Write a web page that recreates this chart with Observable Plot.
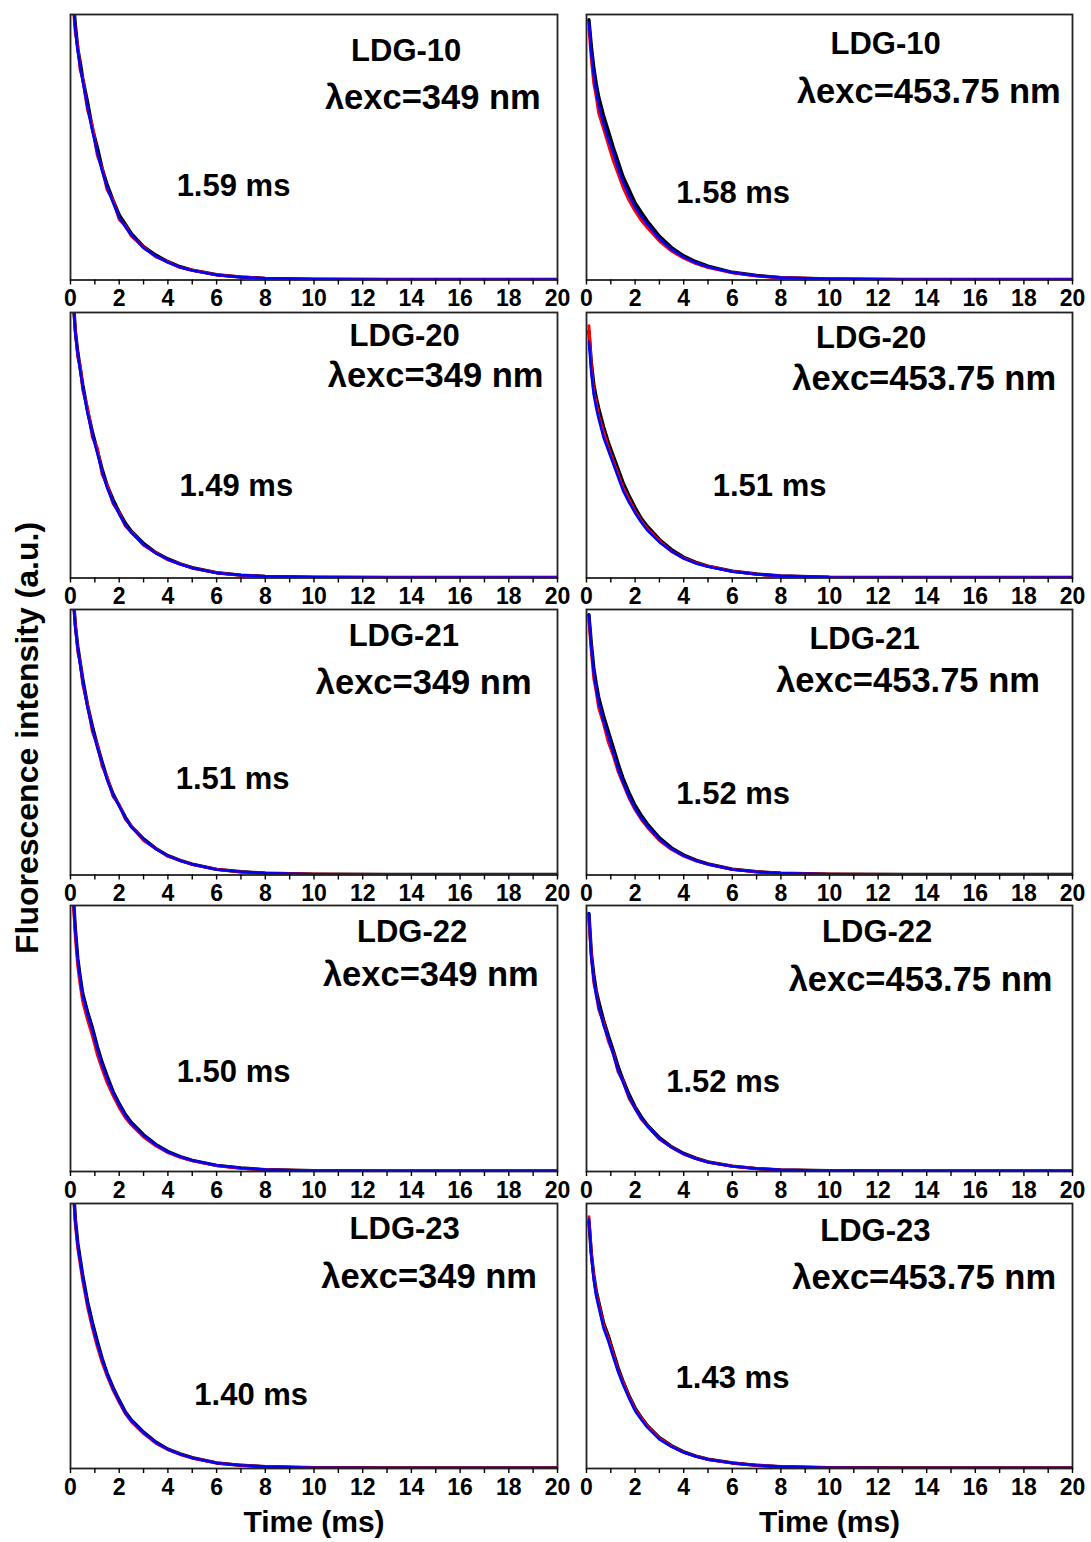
<!DOCTYPE html>
<html>
<head>
<meta charset="utf-8">
<script src="https://cdn.jsdelivr.net/npm/d3@7"></script>
<script src="https://cdn.jsdelivr.net/npm/@observablehq/plot@0.6"></script>
<style>
  html, body { margin: 0; padding: 0; background: #fff; }
  #chart { position: relative; width: 1091px; height: 1542px; background: #fff; overflow: hidden; }
  #chart svg { position: absolute; }
</style>
</head>
<body>
<div id="chart"></div>
<script>
// ---- data ----
const time = [0.1,0.2,0.3,0.4,0.5,0.7,0.9,1.1,1.3,1.5,1.75,2,2.25,2.5,3,3.5,4,4.5,5,6,7,8,10,13,16,20];
const samples = ["LDG-10","LDG-20","LDG-21","LDG-22","LDG-23"];
const excitations = ["λexc=349 nm","λexc=453.75 nm"];
const lifetimes349 = ["1.59 ms","1.49 ms","1.51 ms","1.50 ms","1.40 ms"];
const lifetimes453 = ["1.58 ms","1.51 ms","1.52 ms","1.52 ms","1.43 ms"];
const xTicks = [0,1,2,3,4,5,6,7,8,9,10,11,12,13,14,15,16,17,18,19,20];

// LDG-10, 349 nm
const ldg10_349_black = [1.07,0.96,0.87,0.82,0.76,0.67,0.57,0.50,0.42,0.36,0.30,0.245,0.21,0.175,0.126,0.094,0.069,0.05,0.037,0.02,0.011,0.006,0.003,0.002,0.002,0.002];
const ldg10_349_red   = [1.05,0.93,0.88,0.79,0.76,0.64,0.58,0.47,0.42,0.34,0.30,0.228,0.205,0.165,0.124,0.087,0.068,0.047,0.037,0.019,0.012,0.006,0.003,0.002,0.002,0.002];
const ldg10_349_blue  = [1.06,0.94,0.86,0.80,0.75,0.65,0.56,0.48,0.41,0.35,0.29,0.235,0.20,0.17,0.12,0.09,0.066,0.048,0.036,0.019,0.011,0.006,0.003,0.002,0.002,0.002];
// LDG-20, 349 nm
const ldg20_349_black = [1.07,0.93,0.85,0.79,0.73,0.63,0.55,0.48,0.41,0.35,0.295,0.248,0.207,0.176,0.13,0.096,0.072,0.053,0.039,0.02,0.011,0.006,0.003,0.002,0.002,0.002];
const ldg20_349_red   = [1.05,0.93,0.83,0.80,0.71,0.64,0.53,0.49,0.39,0.35,0.28,0.245,0.196,0.174,0.123,0.095,0.068,0.053,0.037,0.02,0.01,0.006,0.003,0.002,0.002,0.002];
const ldg20_349_blue  = [1.06,0.92,0.84,0.78,0.72,0.62,0.54,0.47,0.40,0.34,0.285,0.24,0.20,0.17,0.126,0.093,0.07,0.052,0.038,0.019,0.011,0.006,0.003,0.002,0.002,0.002];
// LDG-21, 349 nm
const ldg21_349_black = [1.07,0.94,0.86,0.80,0.74,0.64,0.56,0.49,0.425,0.365,0.305,0.262,0.218,0.183,0.136,0.10,0.073,0.055,0.041,0.021,0.012,0.007,0.003,0.002,0.002,0.002];
const ldg21_349_red   = [1.05,0.94,0.84,0.80,0.72,0.64,0.54,0.49,0.41,0.37,0.295,0.265,0.21,0.185,0.13,0.10,0.07,0.055,0.039,0.022,0.011,0.007,0.003,0.002,0.002,0.002];
const ldg21_349_blue  = [1.06,0.93,0.85,0.79,0.73,0.63,0.55,0.48,0.42,0.36,0.30,0.26,0.215,0.18,0.134,0.098,0.072,0.054,0.04,0.021,0.012,0.007,0.003,0.002,0.002,0.002];
// LDG-22, 349 nm
const ldg22_349_black = [1.06,0.91,0.80,0.73,0.67,0.60,0.54,0.47,0.41,0.36,0.30,0.255,0.215,0.184,0.138,0.102,0.075,0.056,0.042,0.023,0.013,0.007,0.003,0.002,0.002,0.002];
const ldg22_349_red   = [1.04,0.88,0.77,0.70,0.64,0.57,0.51,0.44,0.385,0.335,0.285,0.24,0.203,0.175,0.13,0.097,0.071,0.053,0.04,0.022,0.012,0.007,0.003,0.002,0.002,0.002];
const ldg22_349_blue  = [1.05,0.90,0.79,0.72,0.66,0.59,0.53,0.46,0.40,0.35,0.295,0.25,0.21,0.18,0.135,0.10,0.073,0.055,0.041,0.023,0.013,0.007,0.003,0.002,0.002,0.002];
// LDG-23, 349 nm
const ldg23_349_black = [1.09,0.94,0.85,0.79,0.73,0.63,0.55,0.48,0.415,0.36,0.305,0.258,0.214,0.183,0.137,0.10,0.073,0.055,0.041,0.021,0.012,0.007,0.003,0.002,0.002,0.002];
const ldg23_349_red   = [1.07,0.92,0.83,0.77,0.71,0.61,0.53,0.46,0.40,0.35,0.295,0.25,0.207,0.177,0.132,0.096,0.071,0.053,0.039,0.021,0.012,0.007,0.003,0.002,0.002,0.002];
const ldg23_349_blue  = [1.08,0.93,0.84,0.78,0.72,0.62,0.54,0.47,0.41,0.355,0.30,0.254,0.21,0.18,0.135,0.098,0.072,0.054,0.04,0.021,0.012,0.007,0.003,0.002,0.002,0.002];
// LDG-10, 453.75 nm
const ldg10_453_black = [0.98,0.88,0.80,0.74,0.69,0.62,0.56,0.50,0.445,0.39,0.34,0.29,0.255,0.222,0.165,0.122,0.091,0.069,0.052,0.029,0.017,0.009,0.004,0.002,0.002,0.002];
const ldg10_453_red   = [0.95,0.83,0.74,0.69,0.63,0.57,0.51,0.45,0.40,0.35,0.30,0.26,0.225,0.198,0.147,0.109,0.082,0.062,0.047,0.027,0.015,0.009,0.004,0.002,0.002,0.002];
const ldg10_453_blue  = [0.97,0.85,0.77,0.71,0.66,0.59,0.53,0.48,0.42,0.37,0.32,0.275,0.24,0.21,0.155,0.115,0.086,0.065,0.049,0.028,0.016,0.009,0.004,0.002,0.002,0.002];
// LDG-20, 453.75 nm
const ldg20_453_black = [0.93,0.81,0.73,0.68,0.64,0.57,0.51,0.46,0.41,0.36,0.31,0.265,0.225,0.195,0.145,0.107,0.078,0.059,0.045,0.026,0.015,0.008,0.003,0.002,0.002,0.002];
const ldg20_453_red   = [0.95,0.79,0.70,0.66,0.61,0.55,0.49,0.44,0.39,0.34,0.295,0.25,0.215,0.185,0.14,0.10,0.075,0.056,0.044,0.025,0.014,0.008,0.003,0.002,0.002,0.002];
const ldg20_453_blue  = [0.89,0.77,0.69,0.64,0.60,0.53,0.48,0.43,0.38,0.33,0.285,0.245,0.21,0.18,0.135,0.10,0.073,0.055,0.042,0.024,0.014,0.008,0.003,0.002,0.002,0.002];
// LDG-21, 453.75 nm
const ldg21_453_black = [0.98,0.87,0.78,0.72,0.67,0.60,0.54,0.48,0.42,0.365,0.31,0.262,0.225,0.193,0.14,0.102,0.075,0.056,0.042,0.022,0.012,0.007,0.003,0.002,0.002,0.002];
const ldg21_453_red   = [0.96,0.84,0.74,0.69,0.63,0.57,0.50,0.45,0.39,0.345,0.29,0.246,0.21,0.18,0.13,0.096,0.071,0.053,0.04,0.021,0.012,0.007,0.003,0.002,0.002,0.002];
const ldg21_453_blue  = [0.98,0.85,0.76,0.70,0.65,0.58,0.52,0.46,0.40,0.35,0.295,0.25,0.215,0.185,0.134,0.098,0.072,0.054,0.04,0.021,0.012,0.007,0.003,0.002,0.002,0.002];
// LDG-22, 453.75 nm
const ldg22_453_black = [0.97,0.82,0.74,0.68,0.64,0.57,0.51,0.455,0.395,0.345,0.29,0.243,0.206,0.175,0.127,0.093,0.068,0.05,0.036,0.02,0.011,0.006,0.003,0.002,0.002,0.002];
const ldg22_453_red   = [0.95,0.81,0.71,0.67,0.61,0.56,0.49,0.445,0.375,0.34,0.275,0.238,0.197,0.172,0.121,0.091,0.065,0.049,0.035,0.02,0.011,0.006,0.003,0.002,0.002,0.002];
const ldg22_453_blue  = [0.97,0.80,0.72,0.66,0.62,0.55,0.50,0.44,0.38,0.336,0.28,0.236,0.20,0.17,0.123,0.09,0.066,0.048,0.035,0.02,0.011,0.006,0.003,0.002,0.002,0.002];
// LDG-23, 453.75 nm
const ldg23_453_black = [0.93,0.81,0.73,0.67,0.63,0.55,0.50,0.44,0.38,0.33,0.275,0.228,0.193,0.162,0.116,0.086,0.063,0.047,0.035,0.021,0.012,0.007,0.003,0.002,0.002,0.002];
const ldg23_453_red   = [0.95,0.81,0.72,0.66,0.62,0.54,0.49,0.43,0.37,0.325,0.27,0.222,0.19,0.16,0.113,0.084,0.061,0.046,0.034,0.021,0.012,0.007,0.003,0.002,0.002,0.002];
const ldg23_453_blue  = [0.94,0.80,0.71,0.65,0.61,0.53,0.48,0.42,0.365,0.317,0.265,0.217,0.185,0.155,0.11,0.082,0.06,0.045,0.034,0.021,0.012,0.007,0.003,0.002,0.002,0.002];

const series349 = [
  [ldg10_349_black, ldg10_349_red, ldg10_349_blue],
  [ldg20_349_black, ldg20_349_red, ldg20_349_blue],
  [ldg21_349_black, ldg21_349_red, ldg21_349_blue],
  [ldg22_349_black, ldg22_349_red, ldg22_349_blue],
  [ldg23_349_black, ldg23_349_red, ldg23_349_blue]
];
const series453 = [
  [ldg10_453_black, ldg10_453_red, ldg10_453_blue],
  [ldg20_453_black, ldg20_453_red, ldg20_453_blue],
  [ldg21_453_black, ldg21_453_red, ldg21_453_blue],
  [ldg22_453_black, ldg22_453_red, ldg22_453_blue],
  [ldg23_453_black, ldg23_453_red, ldg23_453_blue]
];

// ---- layout ----
const FONT = "'Liberation Sans', Arial, Helvetica, sans-serif";
const colX0 = [70, 586], colX1 = [557, 1072];
const svgLeft = [0, 566], svgWidth = [576, 525];
const rowTop = [13.5, 311.5, 608.5, 905, 1202.5];
const rowBottom = [279, 577, 874, 1171, 1467.5];
const colors = ["#000000", "#ff0000", "#0000ff"];
const widths = [3.4, 3, 2.6];
// label anchor points (absolute px): [sample, excitation, lifetime] -> [xCenter, baseline]
const labelPos = [
  [[[405.7,60],[432.3,108.3],[233,195]], [[885.1,53.3],[928.3,101.7],[732.7,201.7]]],
  [[[404.2,345],[435.1,386],[235.8,495]], [[870.7,346.7],[923.7,389.3],[769.1,495]]],
  [[[403.3,645],[423.2,693.3],[232.1,788.3]], [[864,648.3],[907.5,690.7],[732.7,803.3]]],
  [[[411.6,941.7],[430.3,985],[233.1,1081.7]], [[876.7,941.7],[920,990],[722.6,1091.7]]],
  [[[404.2,1238.3],[428.6,1287.3],[250.7,1404]], [[874.9,1240],[923.7,1288.3],[732,1386.7]]]
];
const labelSizes = [31, 34.5, 31];

const chart = document.getElementById("chart");

for (let row = 0; row < 5; row++) {
  for (let col = 0; col < 2; col++) {
    const sets = col === 0 ? series349[row] : series453[row];
    const texts = [samples[row], excitations[col], col === 0 ? lifetimes349[row] : lifetimes453[row]];
    const top = rowTop[row], bottom = rowBottom[row];
    const sTop = top - 12;
    const mTop = top - sTop;
    const frameH = bottom - top;
    const mBottom = row === 4 ? 75 : 38;
    const mLeft = colX0[col] - svgLeft[col];
    const mRight = svgLeft[col] + svgWidth[col] - colX1[col];
    const marks = [];
    sets.forEach((vals, k) => {
      marks.push(Plot.line(time.map((t, i) => ({t, v: vals[i]})), {
        x: "t", y: "v", stroke: colors[k], strokeWidth: widths[k], clip: true, strokeLinejoin: "round"
      }));
    });
    marks.push(Plot.frame({stroke: "#222", strokeWidth: 1.8}));
    marks.push(Plot.axisX(xTicks, {
      tickSize: 5, tickPadding: 5, tickFormat: d => (d % 2 ? "" : String(d)),
      fontSize: 23, fontWeight: "bold", strokeWidth: 1.4, label: null
    }));
    texts.forEach((s, j) => {
      const [ax, ay] = labelPos[row][col][j];
      marks.push(Plot.text([s], {
        text: d => d, frameAnchor: "top-left",
        dx: ax - colX0[col], dy: ay - top,
        textAnchor: "middle", lineAnchor: "bottom",
        fontSize: labelSizes[j], fontWeight: "bold", fill: "#000"
      }));
    });
    if (row === 4) {
      marks.push(Plot.text(["Time (ms)"], {
        text: d => d, frameAnchor: "bottom", dy: 1531 - bottom,
        lineAnchor: "bottom", fontSize: 30, fontWeight: "bold", fill: "#000"
      }));
    }
    const plot = Plot.plot({
      width: svgWidth[col],
      height: mTop + frameH + mBottom,
      marginLeft: mLeft, marginRight: mRight, marginTop: mTop, marginBottom: mBottom,
      x: {domain: [0, 20]},
      y: {domain: [0, 1], axis: null},
      style: {background: "none", overflow: "visible", fontFamily: FONT, color: "#000", fontSize: "23px"},
      marks
    });
    plot.style.left = svgLeft[col] + "px";
    plot.style.top = sTop + "px";
    plot.style.position = "absolute";
    chart.appendChild(plot);
  }
}

// y-axis title
const ns = "http://www.w3.org/2000/svg";
const ysvg = document.createElementNS(ns, "svg");
ysvg.setAttribute("width", "60");
ysvg.setAttribute("height", "1542");
ysvg.style.left = "0px"; ysvg.style.top = "0px"; ysvg.style.overflow = "visible";
const yt = document.createElementNS(ns, "text");
yt.setAttribute("transform", "translate(38,738) rotate(-90)");
yt.setAttribute("text-anchor", "middle");
yt.setAttribute("font-family", FONT);
yt.setAttribute("font-size", "32");
yt.setAttribute("font-weight", "bold");
yt.textContent = "Fluorescence intensity (a.u.)";
ysvg.appendChild(yt);
chart.appendChild(ysvg);
</script>
</body>
</html>
